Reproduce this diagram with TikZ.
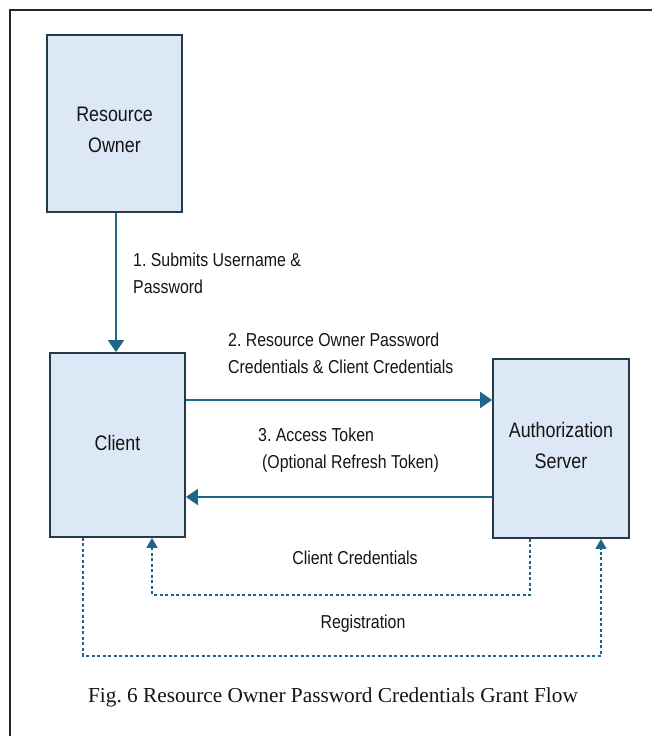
\documentclass[tikz,border=0pt]{standalone}
\usepackage{fontspec}
\setmainfont{Liberation Sans}[FakeStretch=0.85]
\newfontfamily\capfont{Liberation Serif}
\usetikzlibrary{arrows.meta}

\definecolor{boxfill}{HTML}{DCE8F5}
\definecolor{boxline}{HTML}{263B49}
\definecolor{flow}{HTML}{1E6686}
\definecolor{ink}{HTML}{141414}

\begin{document}
\frenchspacing
\begin{tikzpicture}[x=1pt,y=-1pt,
  party/.style={draw=boxline, fill=boxfill, line width=1.8pt, inner sep=0pt},
  partytext/.style={align=center, text=ink, font=\fontsize{21}{31}\selectfont, inner sep=0pt},
  msg/.style={text=ink, font=\fontsize{18.7}{27}\selectfont, align=left, inner sep=0pt},
  solidflow/.style={draw=flow, line width=1.6pt, -{Triangle[width=16pt,length=12pt]}},
  dashflow/.style={draw=flow, line width=1.3pt, dash pattern=on 3pt off 2.5pt,
    -{Triangle[width=11pt,length=10pt]}}]
  \useasboundingbox (0,0) rectangle (652,736);

  % outer frame (top and left edges)
  \draw[line width=2.2pt, black!85] (10,736) -- (10,10) -- (652,10);

  % parties
  \node[party, minimum width=135pt, minimum height=177pt] (ro) at (114.5,123.5) {};
  \node[partytext] (rotext) at ([yshift=-6pt]ro.center) {Resource\\Owner};
  \node[party, minimum width=135pt, minimum height=184pt] (client) at (117.5,445) {};
  \node[partytext] (clienttext) at ([yshift=2pt]client.center) {Client};
  \node[party, minimum width=136pt, minimum height=179pt] (auth) at (561,448.5) {};
  \node[partytext] (authtext) at ([yshift=3pt]auth.center) {Authorization\\Server};

  % step 1
  \draw[solidflow] ([xshift=1.5pt]ro.south) -- ([xshift=1.5pt]ro.south |- client.north);
  \node[msg, anchor=west] (m1) at (133,273.5) {1. Submits Username \&\\Password};

  % step 2
  \draw[solidflow] ([yshift=45pt]client.east) -- ([yshift=45pt]client.east -| auth.west);
  \node[msg, anchor=west] (m2) at (228,353.5)
    {2. Resource Owner Password\\Credentials \& Client Credentials};

  % step 3
  \draw[solidflow] ([yshift=-52pt]client.east -| auth.west) -- ([yshift=-52pt]client.east);
  \node[msg, anchor=west] (m3) at (258,450.5)
    {3. Access Token\\\hspace*{4pt}(Optional Refresh Token)};

  % client credentials
  \draw[dashflow] ([xshift=-31pt]auth.south) -- ++(0,56) -| ([xshift=34.5pt]client.south);
  \node[msg, anchor=center] (m4) at (355,558) {Client Credentials};

  % registration
  \draw[dashflow] ([xshift=-34.5pt]client.south) -- ++(0,118) -| ([xshift=40pt]auth.south);
  \node[msg, anchor=center] (m5) at (363,624) {Registration};

  % caption
  \node[text=ink, font=\capfont\fontsize{21.3}{25}\selectfont, inner sep=0pt] (cap) at (333,697)
    {Fig. 6 Resource Owner Password Credentials Grant Flow};
\end{tikzpicture}
\end{document}
